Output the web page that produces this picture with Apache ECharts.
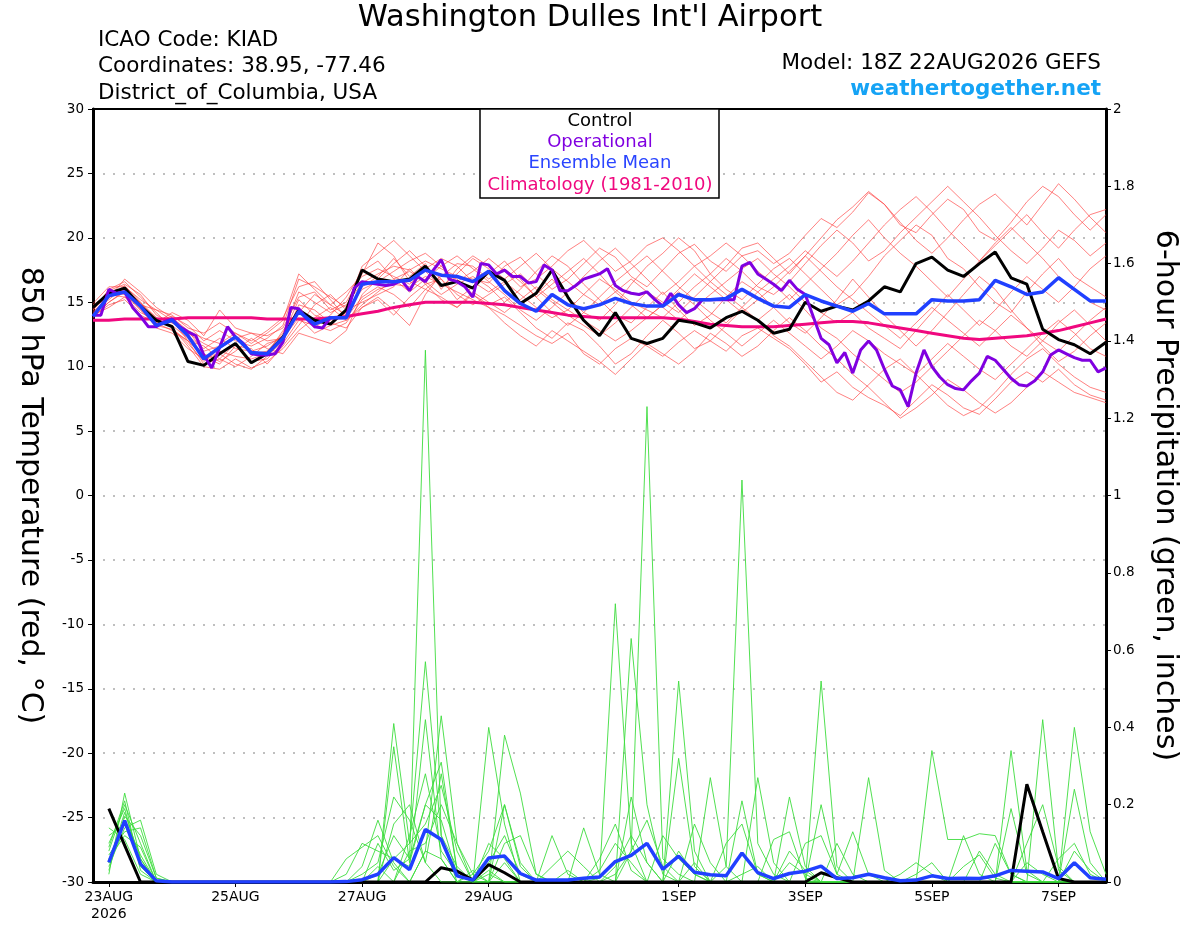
<!DOCTYPE html>
<html>
<head>
<meta charset="utf-8">
<title>Washington Dulles Int'l Airport - GEFS 850 hPa</title>
<script src="https://cdn.jsdelivr.net/npm/echarts@6/dist/echarts.min.js"></script>
<style>
  html, body { margin: 0; padding: 0; background: #fff; }
  #chart { width: 1200px; height: 927px; }
</style>
</head>
<body>
<div id="chart"></div>
<script>
// x axis: 3-hourly steps from 18Z 22AUG2026 (hour 0) to hour 384
const tickIndex = [2, 18, 34, 50, 74, 90, 106, 122];
const tickLabels = ['23AUG\n2026', '25AUG', '27AUG', '29AUG', '1SEP', '3SEP', '5SEP', '7SEP'];

// 850 hPa temperature, 6-hourly (65 values)
const control = [
  14.6, 15.7, 16.1, 14.7, 13.6, 13.1, 10.4, 10.1, 11.0, 11.8, 10.3, 11.0, 12.3,
  14.4, 13.6, 13.3, 14.4, 17.5, 16.8, 16.6, 16.8, 17.8, 16.3, 16.6, 16.1, 17.4,
  16.7, 14.9, 15.7, 17.5, 15.4, 13.6, 12.4, 14.2, 12.2, 11.8, 12.2, 13.6, 13.4,
  13.0, 13.8, 14.3, 13.6, 12.6, 12.9, 15.0, 14.3, 14.7, 14.4, 15.1, 16.2, 15.8,
  18.0, 18.5, 17.5, 17.0, 18.0, 18.9, 16.9, 16.4, 12.9, 12.1, 11.7, 11.0, 11.9
];
const ensMean = [
  13.9, 15.5, 15.8, 14.7, 13.2, 13.6, 12.4, 10.6, 11.5, 12.3, 11.1, 11.0, 12.2,
  14.3, 13.3, 13.8, 13.8, 16.4, 16.6, 16.6, 16.7, 17.5, 17.1, 17.0, 16.6, 17.4,
  15.9, 14.9, 14.3, 15.6, 14.8, 14.5, 14.8, 15.3, 14.9, 14.7, 14.7, 15.6, 15.2,
  15.2, 15.3, 16.0, 15.3, 14.7, 14.6, 15.6, 15.1, 14.7, 14.3, 14.9, 14.1, 14.1,
  14.1, 15.2, 15.1, 15.1, 15.2, 16.7, 16.2, 15.6, 15.8, 16.9, 16.0, 15.1, 15.1
];
const climatology = [
  13.6, 13.6, 13.7, 13.7, 13.7, 13.7, 13.8, 13.8, 13.8, 13.8, 13.8, 13.7, 13.7,
  13.7, 13.7, 13.8, 13.9, 14.1, 14.3, 14.6, 14.8, 15.0, 15.0, 15.0, 15.0, 14.9,
  14.8, 14.6, 14.4, 14.2, 14.0, 13.9, 13.8, 13.8, 13.8, 13.8, 13.8, 13.7, 13.5,
  13.3, 13.2, 13.1, 13.1, 13.1, 13.2, 13.3, 13.4, 13.5, 13.5, 13.4, 13.2, 13.0,
  12.8, 12.6, 12.4, 12.2, 12.1, 12.2, 12.3, 12.4, 12.6, 12.8, 13.1, 13.4, 13.7
];
// operational run, 3-hourly (129 values)
const operational = [
  14.0, 14.0, 16.0, 15.7, 15.8, 14.6, 13.9, 13.1, 13.1, 13.5,
  13.7, 13.1, 12.7, 12.4, 10.9, 9.9, 11.5, 13.1, 12.3, 11.8,
  11.0, 10.9, 10.9, 11.0, 11.9, 14.6, 14.5, 13.7, 13.1, 13.0,
  13.8, 13.8, 13.8, 16.1, 16.6, 16.5, 16.4, 16.3, 16.4, 16.7,
  15.9, 17.0, 16.6, 17.5,
  18.3, 16.8, 16.6, 16.2, 15.4, 18.0, 17.9, 17.2, 17.5, 17.0,
  17.0, 16.5, 16.6, 17.9, 17.5, 15.9, 15.9, 16.3, 16.8, 17.0,
  17.2, 17.6, 16.3, 15.9, 15.7, 15.6, 15.8, 15.2, 14.7, 15.7,
  14.8, 14.2, 14.5, 15.2, 15.2, 15.2, 15.2, 15.2, 17.8, 18.1,
  17.2, 16.8, 16.4,
  15.9, 16.7, 16.0, 15.6, 13.9, 12.2, 11.7, 10.3, 11.1, 9.5,
  11.3, 12.0, 11.3, 9.8, 8.5, 8.2, 6.9, 9.5, 11.3, 10.0,
  9.2, 8.6, 8.3, 8.2, 8.9, 9.5, 10.8, 10.5, 9.8, 9.1,
  8.6, 8.5, 8.9, 9.6, 10.9, 11.3, 11.0, 10.7, 10.5, 10.5,
  9.6, 9.9
];

// ensemble members, temperature (6-hourly)
const mem01 = [14.2,15.4,16.3,15.0,13.8,13.4, 12.8,11.2,11.6,12.4,11.0,11.2,12.6, 15.8,15.0,14.2,14.8, 16.5,17.2,17.8,17.5,18.2,17.6,17.0,16.8,
  16.5,17.8,18.5,17.2,16.0,16.8,18.0,19.2,18.5,17.0,16.2,17.5,18.8,19.5,18.2,17.4,18.6,19.0,18.0,
  18.8,20.2,21.5,20.8,22.0,23.5,22.6,21.0,20.4,21.8,23.0,22.2,20.5,19.8,21.2,22.8,24.0,23.2,21.8,20.6,21.8];
const mem02 = [14.6,15.8,15.6,14.4,13.2,12.9, 12.0,10.2,10.6,11.8,10.4,10.6,11.8, 13.6,13.2,12.8,13.4, 15.2,16.0,16.4,16.2,17.0,16.4,15.8,15.2,
  14.6,14.0,13.2,12.4,11.8,12.6,11.0,10.2,11.4,12.2,11.6,10.8,11.9,12.8,12.0,11.2,12.4,13.0,12.2,
  11.4,10.2,8.8,9.6,8.4,7.6,7.0,6.2,7.4,8.6,7.8,6.8,6.3,7.5,8.8,9.6,8.8,9.8,8.6,7.8,7.4];
const mem03 = [14.0,15.0,15.9,14.8,13.6,13.9, 13.2,12.0,12.8,12.0,11.6,12.2,13.2, 16.8,16.2,15.4,14.6, 17.8,18.8,19.8,18.6,17.4,16.2,17.2,18.4,
  17.6,16.0,14.8,15.6,16.8,15.4,14.2,13.6,14.8,16.4,17.8,18.8,20.0,19.0,17.2,16.0,15.2,16.4,17.6,
  18.4,17.2,16.0,14.8,15.6,17.0,18.6,19.8,21.0,20.2,18.4,17.6,16.2,15.0,14.2,15.8,17.2,18.4,17.0,16.2,15.4];
const mem04 = [14.4,16.0,16.6,15.4,14.2,13.0, 11.6,10.0,9.8,10.6,9.9,10.4,11.4, 12.8,13.8,14.6,13.6, 14.8,15.8,16.8,17.4,16.6,15.6,16.4,17.0,
  16.2,15.0,16.0,17.4,18.6,17.8,16.4,15.2,14.0,13.4,14.6,15.8,14.4,13.2,14.0,15.4,16.6,15.8,14.6,
  13.4,12.6,13.8,15.2,16.8,15.4,14.0,12.8,11.6,12.8,14.2,15.6,17.0,16.0,14.4,13.0,11.6,10.4,11.2,12.4,13.4];
const mem05 = [13.9,14.8,15.2,14.0,13.4,14.2, 13.6,12.4,14.4,13.0,12.6,12.0,12.2, 14.2,15.6,14.8,15.8, 17.0,17.6,17.0,16.4,17.6,18.4,17.8,16.6,
  15.8,16.6,15.6,14.6,13.8,14.4,15.6,16.8,16.0,15.0,14.4,13.8,15.0,16.2,17.2,18.4,17.4,16.2,15.6,
  16.6,18.0,19.4,20.6,19.6,18.2,19.0,20.4,21.6,22.8,24.0,22.8,21.6,20.2,19.0,18.0,19.2,20.6,19.8,18.6,19.6];
const mem06 = [14.8,15.6,16.0,14.6,13.0,12.6, 11.4,10.6,11.0,10.2,9.8,10.8,12.0, 14.8,14.4,13.4,13.0, 14.6,15.4,14.4,13.2,15.6,17.2,16.8,15.6,
  14.8,15.4,14.2,13.0,12.2,13.4,12.8,11.6,10.2,11.0,12.4,13.6,12.6,11.4,12.0,13.2,14.4,13.6,12.4,
  11.6,10.4,9.2,8.0,7.4,8.6,9.8,10.6,9.4,8.2,7.0,6.2,6.8,8.0,9.4,10.6,11.4,10.2,9.2,8.4,8.0];
const mem07 = [14.3,15.2,16.2,15.2,14.4,13.6, 12.4,11.4,12.2,11.4,11.2,11.6,12.4, 15.2,14.0,13.6,14.2, 16.0,16.6,17.4,18.2,18.8,17.8,16.6,17.4,
  18.4,17.4,16.2,16.8,17.8,19.0,19.8,18.6,17.4,18.2,19.4,20.0,19.0,17.8,16.6,17.8,19.2,19.6,18.4,
  17.2,18.6,20.0,21.4,22.4,23.6,22.6,21.2,19.8,18.8,20.0,21.4,22.6,23.4,22.2,21.0,22.6,24.2,23.0,21.6,20.4];
const mem08 = [14.1,15.6,15.4,14.2,13.6,13.2, 12.2,11.0,10.4,11.2,12.2,11.4,11.0, 12.6,12.2,11.8,12.8, 15.6,16.8,18.0,19.0,17.8,16.8,15.6,14.8,
  15.6,16.4,17.2,16.0,15.0,14.0,13.2,12.4,13.4,14.6,15.8,15.0,14.2,15.4,16.6,15.6,14.6,13.6,14.6,
  15.6,14.4,13.0,12.2,11.0,10.0,9.0,8.0,8.8,10.0,11.2,12.4,13.6,12.8,11.6,10.8,12.0,13.4,14.4,13.2,12.0];
const mem09 = [14.5,15.9,16.4,15.6,14.0,13.4, 12.6,11.8,11.2,10.8,10.6,11.0,12.8, 14.4,13.0,14.0,15.4, 17.4,18.2,16.8,15.8,16.8,17.8,18.6,17.6,
  16.6,15.6,14.4,13.6,14.6,15.8,17.0,18.2,19.2,18.0,16.8,15.6,16.6,17.8,18.6,19.6,18.6,17.4,16.4,
  15.2,16.4,17.6,18.8,20.2,21.4,20.0,18.8,17.8,16.6,15.4,16.8,18.2,19.6,20.8,19.6,18.4,17.0,16.0,15.0,14.4];
const mem10 = [14.0,14.6,15.4,14.8,14.4,14.0, 13.0,12.6,13.4,12.6,12.0,12.8,13.8, 16.2,16.6,15.2,13.8, 15.4,16.2,15.6,14.6,16.0,15.4,14.6,15.6,
  14.6,13.4,12.4,11.6,12.8,12.0,11.2,10.4,9.4,10.6,11.8,11.0,10.2,11.2,12.6,11.8,10.8,11.6,12.8,
  13.8,12.8,11.6,10.6,9.4,8.4,7.2,6.0,6.8,7.8,9.0,8.2,7.2,6.4,7.2,8.4,9.6,8.8,8.0,7.6,7.2];
const mem11 = [14.7,15.3,16.8,15.8,14.6,13.8, 12.8,12.2,11.8,12.6,11.8,12.6,13.6, 17.2,16.0,14.8,14.0, 16.2,17.0,18.4,17.0,18.0,16.0,17.6,18.6,
  17.8,16.8,17.8,18.8,17.6,16.6,15.6,14.8,15.8,16.8,15.8,14.6,13.6,14.6,15.6,16.6,17.6,18.4,17.2,
  16.2,15.0,14.2,13.4,14.2,13.0,12.2,11.4,12.8,14.2,15.6,14.4,13.2,14.4,15.8,17.0,16.0,15.0,16.2,17.6,18.6];
const mem12 = [13.8,15.0,15.8,14.4,13.2,13.6, 12.0,10.8,10.2,11.6,11.4,10.2,11.6, 13.2,14.8,15.6,14.4, 15.0,15.6,16.2,17.6,16.4,16.8,15.2,16.2,
  17.2,18.2,16.8,15.4,14.2,13.2,14.2,15.4,16.6,17.6,18.6,17.4,16.2,15.2,14.2,13.4,14.6,15.8,16.8,
  17.8,19.0,18.0,17.0,18.2,19.6,21.0,22.2,23.2,22.0,20.6,19.4,18.2,19.4,20.6,21.8,20.4,19.2,20.6,21.8,22.2];
const mem13 = [14.4,15.6,16.0,15.0,13.4,12.8, 12.0,11.6,10.6,10.0,10.8,11.8,12.2, 13.8,12.6,13.2,13.6, 14.6,15.2,14.0,15.4,16.4,15.2,14.6,15.8,
  15.0,14.2,15.2,16.2,15.2,14.4,13.6,12.8,12.0,12.8,13.8,14.8,15.8,14.8,13.6,12.6,11.6,12.6,13.6,
  12.6,11.6,10.6,11.6,12.8,12.0,11.0,10.2,9.4,10.6,11.8,10.8,9.8,9.0,10.2,11.4,12.6,13.6,12.6,11.4,10.8];
const mem14 = [14.9,16.2,16.2,14.9,13.8,13.0, 11.8,10.4,11.4,12.2,12.6,12.4,13.0, 15.4,15.8,14.4,15.0, 17.2,19.6,18.6,16.6,16.0,17.0,18.0,17.8,
  16.8,17.6,16.6,15.4,16.4,17.4,18.4,17.2,15.8,14.8,13.8,14.8,16.0,17.2,16.2,15.2,14.2,15.2,16.2,
  17.4,18.6,17.4,16.2,15.2,14.2,13.2,12.2,13.4,14.6,13.6,12.6,11.6,12.8,14.0,13.0,12.0,11.2,12.4,13.6,14.6];

// 6-hour precipitation (inches), 6-hourly, first step has no value
const precipControl = [
  null, .19, .095, 0, 0, 0, 0, 0, 0, 0, 0, 0, 0,
  0, 0, 0, 0, 0, 0, 0, 0, 0, .037, .028, .005, .045,
  .024, 0, 0, 0, 0, 0, 0, 0, 0, 0, 0, 0, 0,
  0, 0, 0, 0, 0, 0, 0, .024, .011, 0, 0, 0, 0,
  0, 0, 0, 0, 0, 0, 0, .253, .13, .009, 0, 0, 0
];
const precipMean = [
  null, .051, .159, .047, .003, 0, 0, 0, 0, 0, 0, 0, 0,
  0, 0, 0, .001, .006, .020, .063, .032, .136, .110, .016, .005, .062,
  .067, .022, .005, .005, .005, .010, .013, .053, .069, .100, .033, .067, .025,
  .019, .016, .075, .024, .009, .022, .028, .041, .009, .011, .020, .011, .003,
  .005, .016, .009, .010, .009, .016, .030, .028, .026, .009, .050, .011, .007
];
const pm01 = [
  null, .05, .16, .07, 0, 0, 0, 0, 0, 0, 0, 0, 0,
  0, 0, 0, 0, 0, .02, .12, .06, 1.376, .12, .04, 0, .02,
  0, 0, 0, 0, 0, 0, 0, .04, .12, .05, 0, 0, 0,
  0, 0, .02, .04, 0, 0, 0, 0, 0, 0, 0, 0, 0,
  0, .34, .11, .11, .125, .12, .02, 0, 0, 0, 0, 0, 0
];
const pm02 = [
  null, .08, .20, .10, 0, 0, 0, 0, 0, 0, 0, 0, 0,
  0, 0, 0, 0, 0, 0, .41, .10, .57, .12, 0, .03, 0,
  .38, .23, .02, 0, 0, 0, 0, 0, .08, 1.23, .06, .02, 0,
  0, 0, 0, 0, 0, .05, .02, 0, 0, 0, 0, 0, 0,
  0, 0, 0, 0, 0, 0, 0, 0, .42, .03, 0, 0, 0
];
const pm03 = [
  null, .02, .23, .06, 0, 0, 0, 0, 0, 0, 0, 0, 0,
  0, 0, 0, 0, .04, .16, .05, 0, .08, .43, .10, 0, .40,
  .15, 0, 0, 0, 0, 0, .01, .72, .10, 0, 0, 0, .05,
  0, 0, .21, .02, 0, 0, 0, .52, .04, 0, 0, 0, 0,
  0, 0, 0, 0, 0, 0, 0, .05, .02, 0, 0, 0, 0
];
const pm04 = [
  null, .12, .15, .05, 0, 0, 0, 0, 0, 0, 0, 0, 0,
  0, 0, 0, 0, 0, 0, .35, .05, .20, .31, .03, 0, 0,
  .20, .05, 0, .12, .02, 0, 0, 0, .63, .20, .02, 0, 0,
  0, .04, 1.04, .10, .02, 0, 0, 0, 0, 0, 0, 0, 0,
  0, 0, 0, 0, 0, 0, 0, 0, 0, 0, .40, .13, .02
];
const pm05 = [
  null, .04, .14, .16, .02, 0, 0, 0, 0, 0, 0, 0, 0,
  0, 0, 0, .06, .09, .12, .04, 0, .08, .06, 0, 0, 0,
  0, 0, 0, 0, 0, .14, .02, 0, 0, 0, 0, .52, .08,
  0, 0, 0, 0, 0, .22, .04, 0, 0, 0, .27, .03, 0,
  0, 0, 0, 0, 0, 0, .34, .03, 0, 0, 0, 0, 0
];
const pm06 = [
  null, .10, .19, .04, 0, 0, 0, 0, 0, 0, 0, 0, 0,
  0, 0, 0, 0, 0, 0, .15, .20, .05, .28, .03, 0, .05,
  .12, .02, 0, 0, 0, 0, 0, 0, .22, .05, 0, .32, .04,
  0, 0, 0, 0, .11, .13, .01, 0, 0, 0, 0, 0, 0,
  0, 0, 0, .12, .02, 0, 0, 0, 0, 0, .24, .05, 0
];
const pm07 = [
  null, .06, .12, .09, 0, 0, 0, 0, 0, 0, 0, 0, 0,
  0, 0, 0, 0, 0, .04, 0, .12, .28, .08, .02, 0, .10,
  .06, 0, 0, 0, 0, 0, 0, 0, 0, 0, 0, 0, 0,
  .27, .04, 0, 0, 0, 0, 0, .20, .02, .13, .02, 0, 0,
  0, 0, 0, 0, 0, 0, .19, .02, 0, 0, 0, 0, 0
];
const pm08 = [
  null, .03, .17, .12, .01, 0, 0, 0, 0, 0, 0, 0, 0,
  0, 0, 0, 0, .02, .05, .22, .16, .05, 0, 0, .02, .08,
  .20, .04, 0, 0, 0, 0, .03, .10, .05, 0, 0, 0, 0,
  0, 0, 0, .27, .05, 0, 0, 0, 0, 0, 0, 0, 0,
  .02, .05, 0, 0, 0, .10, .02, 0, 0, 0, 0, 0, 0
];
const pm09 = [
  null, .09, .21, .03, 0, 0, 0, 0, 0, 0, 0, 0, 0,
  0, 0, 0, 0, 0, 0, 0, .08, .10, .20, .10, .02, 0,
  0, 0, 0, .04, .08, .04, 0, 0, 0, 0, .12, .06, .02,
  0, 0, 0, 0, 0, 0, 0, 0, .10, .02, 0, 0, 0,
  0, 0, 0, 0, .08, .02, 0, 0, 0, .06, .10, .02, 0
];
const pm10 = [
  null, .14, .11, .02, 0, 0, 0, 0, 0, 0, 0, 0, 0,
  0, 0, 0, .02, .10, .08, .06, .04, .42, .06, 0, 0, .03,
  0, 0, 0, 0, 0, 0, 0, .02, .08, .16, .04, 0, 0,
  0, .10, .15, .02, 0, 0, 0, 0, 0, 0, 0, 0, 0,
  0, 0, 0, 0, 0, 0, 0, .10, .20, .04, 0, 0, 0
];
const pm11 = [
  null, .07, .13, .14, .01, 0, 0, 0, 0, 0, 0, 0, 0,
  0, 0, 0, 0, 0, .10, .03, .06, .20, .16, .02, 0, 0,
  .10, .12, .02, 0, 0, 0, 0, 0, 0, 0, 0, 0, .15,
  .05, 0, 0, 0, 0, .08, .03, 0, 0, 0, 0, 0, .02,
  .05, .02, 0, 0, 0, 0, 0, 0, 0, 0, .08, .03, 0
];
const pm12 = [
  null, .05, .18, .06, 0, 0, 0, 0, 0, 0, 0, 0, 0,
  0, 0, 0, 0, 0, 0, .06, .10, .15, .25, .08, 0, 0,
  .05, 0, 0, 0, .03, 0, .06, .15, .03, 0, 0, .08, .02,
  0, 0, 0, 0, 0, 0, .10, .12, .02, 0, 0, 0, 0,
  0, 0, 0, .04, .07, .01, 0, 0, 0, 0, 0, 0, 0
];

const tempMembers = [mem01, mem02, mem03, mem04, mem05, mem06, mem07, mem08, mem09, mem10, mem11, mem12, mem13, mem14];
const precipMembers = [pm01, pm02, pm03, pm04, pm05, pm06, pm07, pm08, pm09, pm10, pm11, pm12];

const FONT = '"DejaVu Sans", sans-serif';

// category list of forecast hours (every 3 h)
const hours = [];
for (let h = 0; h <= 384; h += 3) hours.push(h);

// 6-hourly values sit on every second 3-hourly category
function sixHourly(arr) {
  return arr.map((v, i) => [i * 2, v]).filter(p => p[1] !== null);
}

function thinLine(arr, color, axis) {
  return {
    type: 'line',
    yAxisIndex: axis,
    data: sixHourly(arr),
    symbol: 'none',
    silent: true,
    z: 2,
    lineStyle: { color: color, width: 0.9 }
  };
}

function thickLine(data, color, axis, width, z) {
  return {
    type: 'line',
    yAxisIndex: axis,
    data: data,
    symbol: 'none',
    silent: true,
    z: z,
    lineStyle: { color: color, width: width }
  };
}

const series = [];
tempMembers.forEach(m => series.push(thinLine(m, 'rgba(255,60,60,0.72)', 0)));
precipMembers.forEach(m => series.push(thinLine(m, '#3ddc3d', 1)));
series.push(thickLine(sixHourly(climatology), '#f0087f', 0, 3, 4));
series.push(thickLine(sixHourly(precipControl), '#000', 1, 3, 5));
series.push(thickLine(sixHourly(precipMean), '#2040ff', 1, 3.5, 6));
series.push(thickLine(sixHourly(control), '#000', 0, 3, 5));
series.push(thickLine(operational, '#8000e0', 0, 3, 6));
series.push(thickLine(sixHourly(ensMean), '#2040ff', 0, 3.5, 7));

function text(str, x, y, size, color, align, weight) {
  return {
    type: 'text',
    z: 100,
    style: {
      text: str,
      x: x,
      y: y,
      fill: color,
      font: (weight || 'normal') + ' ' + size + 'px ' + FONT,
      textAlign: align,
      textVerticalAlign: 'middle'
    }
  };
}

const chart = echarts.init(document.getElementById('chart'));
chart.setOption({
  animation: false,
  backgroundColor: '#fff',
  textStyle: { fontFamily: FONT },
  grid: {
    left: 93, right: 94, top: 109, bottom: 45,
    show: true, borderColor: '#000', borderWidth: 2
  },
  xAxis: [
    {
      type: 'category',
      data: hours,
      boundaryGap: false,
      axisLine: { onZero: false, lineStyle: { color: '#000', width: 3 } },
      axisTick: {
        length: 5,
        interval: (i) => tickIndex.includes(i),
        lineStyle: { color: '#000', width: 1 }
      },
      axisLabel: {
        interval: (i) => tickIndex.includes(i),
        formatter: (v, i) => tickLabels[tickIndex.indexOf(i)],
        color: '#000', fontSize: 14, margin: 7, lineHeight: 17, fontFamily: FONT
      },
      splitLine: { show: false }
    },
    {
      // top frame line
      type: 'category',
      data: hours,
      boundaryGap: false,
      position: 'top',
      axisLine: { onZero: false, lineStyle: { color: '#000', width: 2 } },
      axisTick: { show: false },
      axisLabel: { show: false },
      splitLine: { show: false }
    }
  ],
  yAxis: [
    {
      type: 'value',
      position: 'left',
      min: -30, max: 30, interval: 5,
      name: '850 hPa Temperature (red, °C)',
      nameLocation: 'middle',
      nameRotate: -90,
      nameGap: 48,
      nameTextStyle: { color: '#000', fontSize: 30, fontFamily: FONT },
      axisLine: { show: true, onZero: false, lineStyle: { color: '#000', width: 3 } },
      axisTick: { show: true, length: 5, lineStyle: { color: '#000', width: 1 } },
      axisLabel: { color: '#000', fontSize: 13.5, margin: 9, fontFamily: FONT },
      splitLine: { show: true, lineStyle: { color: '#aaa', width: 1.5, type: [2, 8] } }
    },
    {
      type: 'value',
      position: 'right',
      min: 0, max: 2, interval: 0.2,
      name: '6-hour Precipitation (green, inches)',
      nameLocation: 'middle',
      nameRotate: -90,
      nameGap: 44,
      nameTextStyle: { color: '#000', fontSize: 30, fontFamily: FONT },
      axisLine: { show: true, onZero: false, lineStyle: { color: '#000', width: 3 } },
      axisTick: { show: true, length: 5, lineStyle: { color: '#000', width: 1 } },
      axisLabel: { color: '#000', fontSize: 13.5, margin: 7, fontFamily: FONT },
      splitLine: { show: false }
    }
  ],
  graphic: [
    text("Washington Dulles Int'l Airport", 590, 18, 30.5, '#000', 'center'),
    text('ICAO Code: KIAD', 98, 40, 21.5, '#000', 'left'),
    text('Coordinates: 38.95, -77.46', 98, 66, 21.5, '#000', 'left'),
    text('District_of_Columbia, USA', 98, 93, 21.5, '#000', 'left'),
    text('Model: 18Z 22AUG2026 GEFS', 1101, 63, 21.5, '#000', 'right'),
    text('weathertogether.net', 1101, 89, 21.5, '#15a3f5', 'right', 'bold'),
    {
      type: 'rect',
      z: 90,
      shape: { x: 480, y: 109, width: 239, height: 89 },
      style: { fill: '#fff', stroke: '#000', lineWidth: 1.5 }
    },
    text('Control', 600, 121, 18, '#000', 'center'),
    text('Operational', 600, 142, 18, '#8000e0', 'center'),
    text('Ensemble Mean', 600, 163, 18, '#2a45ff', 'center'),
    text('Climatology (1981-2010)', 600, 185, 18, '#f0087f', 'center')
  ],
  series: series
});
</script>
</body>
</html>
